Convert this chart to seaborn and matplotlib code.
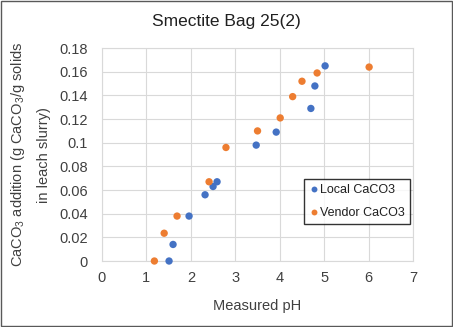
import matplotlib
matplotlib.use("Agg")
import matplotlib.pyplot as plt
import seaborn as sns
import pandas as pd

local_ph = [1.51, 1.60, 1.96, 2.32, 2.50, 2.59, 3.47, 3.92, 4.70, 4.79, 5.02]
local_add = [0.0, 0.014, 0.038, 0.056, 0.063, 0.067, 0.098, 0.109, 0.129, 0.148, 0.165]
vendor_ph = [1.18, 1.40, 1.69, 2.41, 2.79, 3.50, 4.01, 4.29, 4.50, 4.84, 6.01]
vendor_add = [0.0, 0.0235, 0.038, 0.067, 0.096, 0.110, 0.121, 0.139, 0.152, 0.159, 0.164]
series_names = ["Local CaCO3", "Vendor CaCO3"]
x_ticks = [0, 1, 2, 3, 4, 5, 6, 7]
y_ticks = [0, 0.02, 0.04, 0.06, 0.08, 0.1, 0.12, 0.14, 0.16, 0.18]
y_tick_labels = ["0", "0.02", "0.04", "0.06", "0.08", "0.1", "0.12", "0.14", "0.16", "0.18"]

df = pd.DataFrame({
    "pH": local_ph + vendor_ph,
    "add": local_add + vendor_add,
    "series": [series_names[0]] * len(local_ph) + [series_names[1]] * len(vendor_ph),
})

sns.set_style("white")
plt.rcParams["font.family"] = ["Liberation Sans", "DejaVu Sans"]
plt.rcParams["mathtext.fontset"] = "custom"
plt.rcParams["mathtext.rm"] = "Liberation Sans"
plt.rcParams["mathtext.it"] = "Liberation Sans:italic"

fig = plt.figure(figsize=(4.53, 3.27), dpi=100)
ax = fig.add_axes([0.225, 0.2018, 0.687, 0.651])

sns.scatterplot(data=df, x="pH", y="add", hue="series",
                palette=["#4472C4", "#ED7D31"], s=28, linewidth=0, ax=ax,
                zorder=3, clip_on=False)

ax.set_xlim(0, 7)
ax.set_ylim(0, 0.18)
ax.set_xticks(x_ticks)
ax.set_yticks(y_ticks)
ax.set_yticklabels(y_tick_labels)
ax.tick_params(axis="both", labelsize=10.5, colors="#404040", length=0)
ax.tick_params(axis="y", pad=10)
ax.tick_params(axis="x", pad=7)
ax.grid(True, color="#D9D9D9", linewidth=0.8)
ax.set_axisbelow(True)
for sp in ax.spines.values():
    sp.set_color("#D9D9D9")
    sp.set_linewidth(0.8)

ax.set_xlabel("Measured pH", fontsize=10.5, color="#404040", labelpad=10)
ax.set_ylabel("CaCO$_3$ addition (g CaCO$_3$/g solids\nin leach slurry)",
              fontsize=10.5, color="#404040", labelpad=6, linespacing=1.9)
fig.text(0.5, 0.935, "Smectite Bag 25(2)", ha="center", va="center",
         fontsize=12.5, color="#202020")

leg = ax.legend(loc="upper left", bbox_to_anchor=(0.63, 0.415), frameon=True,
                fontsize=9, handletextpad=0.1, borderpad=0.4,
                labelspacing=0.9, handlelength=0.8, fancybox=False,
                markerscale=0.8)
leg.get_frame().set_edgecolor("black")
leg.get_frame().set_linewidth(1.0)
for t in leg.get_texts():
    t.set_color("#202020")

border = plt.Rectangle((0.002, 0.003), 0.996, 0.994, transform=fig.transFigure,
                       fill=False, edgecolor="#595959", linewidth=1.0)
fig.patches.append(border)

fig.savefig("out.png", dpi=100)
